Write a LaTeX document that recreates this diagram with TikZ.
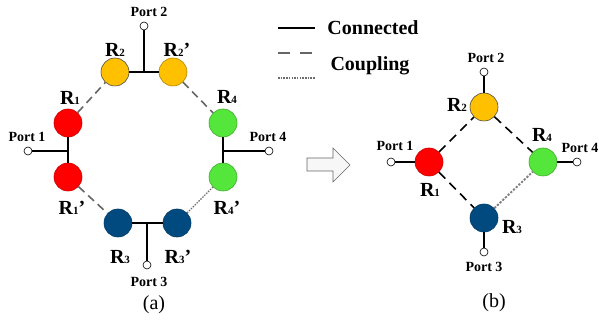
\documentclass[tikz,border=0pt]{standalone}
\usepackage{fontspec}
\setmainfont{Liberation Serif}
\begin{document}
\begin{tikzpicture}[x=1pt,y=-1pt,
  res/.style={circle,minimum size=28pt,inner sep=0pt,line width=0.6pt},
  rred/.style={res,fill=red,draw=red!80!black},
  rorange/.style={res,fill=orangeres,draw=orangeres!70!black},
  rgreen/.style={res,fill=greenres,draw=greenres!75!black},
  rblue/.style={res,fill=blueres,draw=blueres!80!black},
  portc/.style={circle,draw=black,fill=white,minimum size=8pt,inner sep=0pt,line width=0.6pt},
  conn/.style={draw=black,line width=1.6pt},
  coupl/.style={draw=gray!80!black,line width=1.6pt,dash pattern=on 8pt off 5pt},
  couplb/.style={draw=black,line width=1.6pt,dash pattern=on 9pt off 6pt},
  weak/.style={draw=gray!85!black,line width=1.1pt,dash pattern=on 1.5pt off 1.2pt},
  weakb/.style={draw=gray,line width=1.9pt,dash pattern=on 2.2pt off 1.5pt},
  rlab/.style={font=\bfseries\fontsize{20}{20}\selectfont,inner sep=0pt},
  plab/.style={font=\bfseries\fontsize{14}{14}\selectfont,inner sep=0pt},
  leglab/.style={font=\bfseries\fontsize{20}{20}\selectfont,inner sep=0pt},
  caplab/.style={font=\fontsize{20}{20}\selectfont,inner sep=0pt}
]
\definecolor{orangeres}{HTML}{FFC000}
\definecolor{greenres}{HTML}{55E63C}
\definecolor{blueres}{HTML}{004A7F}
% resonator label: R, small subscript index, optional straight prime
\newcommand{\rsub}[2]{R\raisebox{-0.5pt}{\fontsize{11}{11}\selectfont #1}#2}
\newcommand{\rprime}{\char"27}
\useasboundingbox (0,0) rectangle (599,320);

% ---------- (a) split resonators ----------
\node[rred]    (R1)  at (68,123)  {};
\node[rred]    (R1p) at (68,177)  {};
\node[rorange,draw=black!70] (R2)  at (115,72)  {};
\node[rorange] (R2p) at (173,72)  {};
\node[rgreen]  (R4)  at (223,123) {};
\node[rgreen]  (R4p) at (223,177) {};
\node[rblue]   (R3)  at (118,223) {};
\node[rblue]   (R3p) at (177,223) {};

\coordinate (j1) at (68,151);
\coordinate (j2) at (144,72);
\coordinate (j4) at (223,151);
\coordinate (j3) at (147,223);
\node[portc] (P1) at (28,151) {};
\node[portc] (P2) at (144,26) {};
\node[portc] (P4) at (269,151) {};
\node[portc] (P3) at (147,265) {};

\draw[conn] (R1) -- (R1p);
\draw[conn] (j1) -- (P1);
\draw[conn] (R2) -- (R2p);
\draw[conn] (j2) -- (P2);
\draw[conn] (R4) -- (R4p);
\draw[conn] (j4) -- (P4);
\draw[conn] (R3) -- (R3p);
\draw[conn] (j3) -- (P3);

\draw[coupl] (R1) -- (R2);
\draw[coupl] (R2p) -- (R4);
\draw[coupl] (R1p) -- (R3);
\draw[weak] (R3p) -- (R4p);

\node[rlab] (lR1)  at (70,98)   {\rsub{1}{}};
\node[rlab] (lR2)  at (115,50)  {\rsub{2}{}};
\node[rlab] (lR2p) at (177,50)  {\rsub{2}{\rprime}};
\node[rlab] (lR4)  at (227,97)  {\rsub{4}{}};
\node[rlab] (lR1p) at (72,208)  {\rsub{1}{\rprime}};
\node[rlab] (lR4p) at (227,208) {\rsub{4}{\rprime}};
\node[rlab] (lR3)  at (120,257) {\rsub{3}{}};
\node[rlab] (lR3p) at (178,257) {\rsub{3}{\rprime}};

\node[plab] (lP1) at (27,137)  {Port 1};
\node[plab] (lP2) at (149,12)  {Port 2};
\node[plab] (lP4) at (268,137) {Port 4};
\node[plab] (lP3) at (149,282) {Port 3};
\node[caplab] (capa) at (154,305) {(a)};

% ---------- legend ----------
\coordinate (s1) at (278,28);  \coordinate (s2) at (315,28);
\coordinate (d1) at (278,53);  \coordinate (d2) at (315,53);
\coordinate (w1) at (278,78);  \coordinate (w2) at (315,78);
\draw[conn] (s1) -- (s2);
\draw[draw=gray!80!black,line width=1.6pt,dash pattern=on 12pt off 10pt] (d1) -- (d2);
\draw[weak] (w1) -- (w2);
\node[leglab] (lconn) at (373,28) {Connected};
\node[leglab] (lcoup) at (370,66) {Coupling};

% ---------- transform arrow ----------
\draw[draw=gray!80!black,fill=gray!6,line width=0.6pt]
  (307,158) -- (333,158) -- (333,148) -- (350,165) -- (333,182) -- (333,171) -- (307,171) -- cycle;

% ---------- (b) equivalent resonators ----------
\node[rorange,draw=black!70] (S2) at (484,107) {};
\node[rred]    (S1) at (429,162) {};
\node[rgreen]  (S4) at (543,162) {};
\node[rblue]   (S3) at (484,218) {};
\node[portc] (Q2) at (484,72)  {};
\node[portc] (Q1) at (391,162) {};
\node[portc] (Q4) at (577,162) {};
\node[portc] (Q3) at (484,252) {};

\draw[conn] (S2) -- (Q2);
\draw[conn] (S1) -- (Q1);
\draw[conn] (S4) -- (Q4);
\draw[conn] (S3) -- (Q3);
\draw[couplb] (S1) -- (S2);
\draw[couplb] (S2) -- (S4);
\draw[couplb] (S1) -- (S3);
\draw[weakb] (S3) -- (S4);

\node[rlab] (lS2) at (457,105) {\rsub{2}{}};
\node[rlab] (lS1) at (430,190) {\rsub{1}{}};
\node[rlab] (lS4) at (542,135) {\rsub{4}{}};
\node[rlab] (lS3) at (512,227) {\rsub{3}{}};
\node[plab] (lQ2) at (486,58)  {Port 2};
\node[plab] (lQ1) at (395,146) {Port 1};
\node[plab] (lQ4) at (580,148) {Port 4};
\node[plab] (lQ3) at (484,267) {Port 3};
\node[caplab] (capb) at (494,303) {(b)};
\end{tikzpicture}
\end{document}
